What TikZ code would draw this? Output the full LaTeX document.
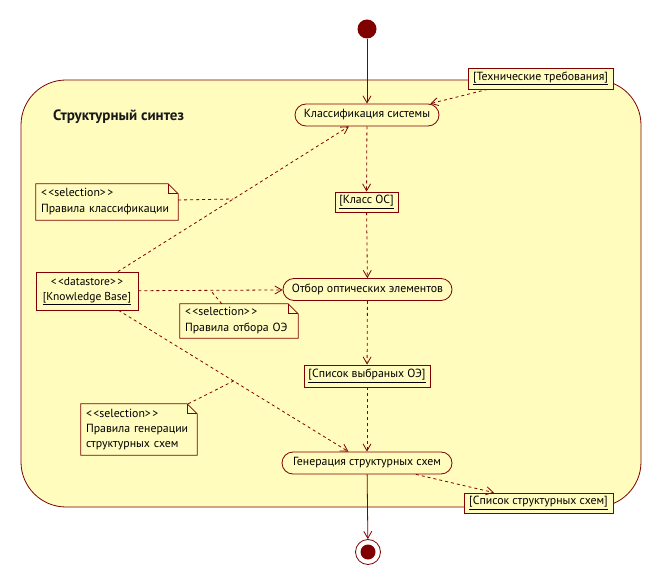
\documentclass[tikz,border=0pt]{standalone}
\usepackage{fontspec}
\setmainfont{PT Sans}
\usetikzlibrary{arrows.meta,calc}
\definecolor{bord}{RGB}{128,0,0}
\definecolor{bg}{RGB}{255,252,190}
\tikzset{
  base/.style={font=\fontsize{11.8}{16}\selectfont, text=black},
  act/.style={base, draw=bord, fill=bg, rounded corners=11pt, minimum height=22pt, inner sep=0pt, line width=0.8pt},
  obj/.style={base, draw=bord, fill=bg, inner sep=0pt, line width=0.8pt},
  note/.style={base, draw=none, inner xsep=5pt, inner ysep=0pt, align=left},
  flow/.style={draw=bord, line width=0.8pt, -{Straight Barb[length=7pt,width=8pt]}},
  dflow/.style={flow, dash pattern=on 3pt off 3pt},
  dline/.style={draw=bord, line width=0.8pt, dash pattern=on 3pt off 3pt},
  earline/.style={draw=bord, line width=0.8pt},
}
\newcommand\mynoteframe[1]{%
  \draw[earline] (#1.north west) -- ([xshift=-10pt]#1.north east) -- ([yshift=-10pt]#1.north east) -- (#1.south east) -- (#1.south west) -- cycle;
  \draw[earline] ([xshift=-10pt]#1.north east) -- ([xshift=-10pt,yshift=-10pt]#1.north east) -- ([yshift=-10pt]#1.north east);}
\begin{document}
\begin{tikzpicture}[x=1pt,y=-1pt]
\useasboundingbox (0,0) rectangle (664,585);
% container
\draw[draw=bord, fill=bg, line width=0.8pt, rounded corners=45pt] (21,80) rectangle (641,507);
\node[anchor=west, inner sep=0pt, font=\fontsize{15}{17}\selectfont\bfseries, text=black!90] (title) at (53,117) {Структурный синтез};

% activity and object nodes
\node[circle, fill=bord, minimum size=19pt, inner sep=0pt] (init) at (367,29) {};
\node[act, minimum width=144pt] (cls) at (367,115) {Классификация системы};
\node[obj, minimum width=145pt, minimum height=21pt] (tech) at (540.5,78.5) {\underline{[Технические требования]}};
\node[obj, minimum width=63pt, minimum height=20pt] (koc) at (366.5,202) {\underline{[Класс ОС]}};
\node[act, minimum width=169pt] (sel) at (367.5,289.5) {Отбор оптических элементов};
\node[obj, minimum width=126pt, minimum height=22pt] (lst) at (367,376) {\underline{[Список выбраных ОЭ]}};
\node[act, minimum width=170pt] (gen) at (367,463) {Генерация структурных схем};
\node[obj, minimum width=149pt, minimum height=20pt] (out) at (538.5,503) {\underline{[Список структурных схем]}};
\node[obj, align=center, minimum width=102pt, minimum height=38pt, font=\fontsize{11.5}{15}\selectfont] (kb) at (87,291) {<\kern1.5pt<datastore>\kern1.5pt>\\\underline{[Knowledge Base]}};
\node[circle, draw=bord, fill=white, minimum size=25pt, inner sep=0pt, line width=0.8pt] (fin) at (368,552) {};
\node[circle, fill=bord, minimum size=15pt, inner sep=0pt] (finin) at (fin) {};

% notes
\node[note, text width=132pt, minimum height=36pt] (n1) at (107,202) {<\kern1.5pt<selection>\kern1.5pt>\\Правила классификации};
\node[note, text width=108pt, minimum height=34pt] (n2) at (239,321) {<\kern1.5pt<selection>\kern1.5pt>\\Правила отбора ОЭ};
\node[note, text width=106pt, minimum height=51pt, font=\fontsize{11.8}{15}\selectfont] (n3) at (139,429.5) {<\kern1.5pt<selection>\kern1.5pt>\\Правила генерации\\структурных схем};
\mynoteframe{n1}
\mynoteframe{n2}
\mynoteframe{n3}

% control flows
\draw[flow] (init) -- (cls);
\draw[flow] (gen) -- (fin);
% object flows
\draw[dflow] ([xshift=-53pt]tech.south) -- ([xshift=-9pt]cls.north east);
\draw[dflow] (cls) -- (koc);
\draw[dflow] (koc) -- (sel);
\draw[dflow] (sel) -- (lst);
\draw[dflow] (lst) -- (gen);
\draw[dflow] (gen) -- (out);
\draw[dflow] (kb) -- (cls) coordinate[pos=.5] (m1);
\draw[dflow] (kb) -- (sel) coordinate[pos=.5] (m2);
\draw[dflow] (kb) -- (gen) coordinate[pos=.5] (m3);
% note attachments
\draw[dline] ([yshift=2pt]n1.east) -- (m1);
\draw[dline] ([xshift=42pt]n2.north west) -- (m2);
\draw[dline] ([xshift=-9pt]n3.north east) -- (m3);
\end{tikzpicture}
\end{document}
